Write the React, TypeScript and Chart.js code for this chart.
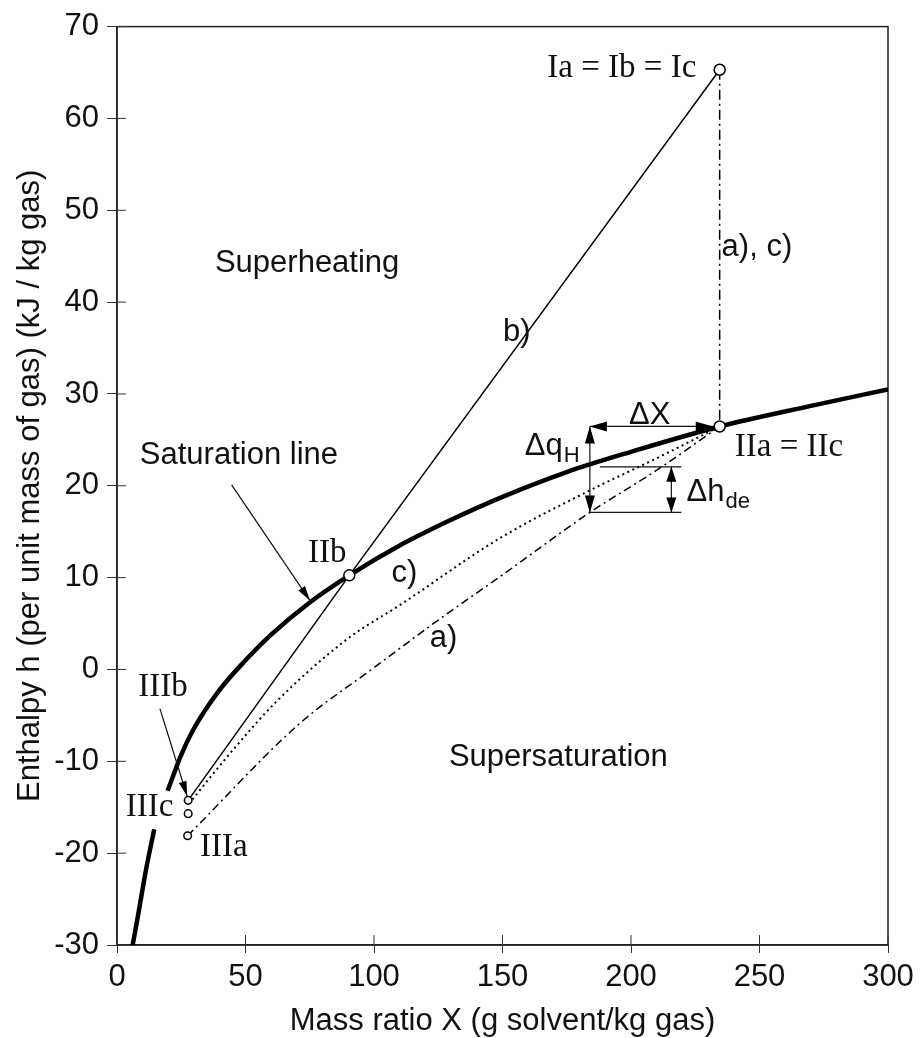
import React, { useEffect, useRef } from "react";
import { Chart, registerables } from "chart.js";

Chart.register(...registerables);

// ---- axis ticks ----
const xTickValues = [0, 50, 100, 150, 200, 250, 300];
const yTickValues = [-30, -20, -10, 0, 10, 20, 30, 40, 50, 60, 70];

// ---- saturation line (two segments, interrupted at the IIIc label) ----
const satLowX = [6.1, 8.3, 11.5, 14.5];
const satLowY = [-30, -26.6, -21.5, -17.4];
const satX = [19.7, 25, 30, 40, 50, 60, 75, 90.4, 110, 130, 150, 175, 200, 234.5, 270, 300];
const satY = [-13.2, -9.3, -6.4, -2.2, 1.0, 3.8, 7.3, 10.25, 13.5, 16.3, 18.8, 21.5, 23.7, 26.46, 28.7, 30.5];

// ---- process b) (solid) ----
const bX = [27.7, 90.4, 234.5];
const bY = [-14.25, 10.25, 65.3];

// ---- process c) (dotted) ----
const cX = [28, 45, 62, 90, 110, 149, 184, 210, 234.5];
const cY = [-14.6, -8.8, -3.5, 3.4, 7.0, 14.3, 19.5, 23.0, 26.46];

// ---- process a) (dash-dot) ----
const aX = [27.5, 71.2, 100, 125.6, 150, 184, 210, 234.5];
const aY = [-18.1, -5.85, 0.2, 5.5, 10.3, 17.1, 21.7, 26.46];

// ---- vertical a), c) cooling line ----
const vX = [234.5, 234.5];
const vY = [65.3, 26.46];

// ---- state points ----
const stateX = [234.5, 234.5, 90.4, 27.7, 27.7, 27.5];
const stateY = [65.3, 26.46, 10.25, -14.25, -15.7, -18.1];

// ---- annotation geometry (data coordinates) ----
const dX_from = [184, 26.46];
const dX_to = [231.8, 26.46];
const dqH_from = [184, 26.46];
const dqH_to = [184, 17.1];
const dhde_from = [215.7, 22.07];
const dhde_to = [215.7, 17.1];
const hLineTop = [[187.9, 22.07], [219.6, 22.07]];
const hLineBottom = [[184, 17.1], [219.6, 17.1]];
const satArrow = [[44.6, 20.1], [75.1, 7.5]];
const IIIbArrow = [[16.7, -4.27], [27.3, -13.8]];

// ---- text labels ----
const sansLabels: [string, number, number, CanvasTextAlign][] = [
  ["Superheating", 38.1, 44.2, "left"],
  ["Supersaturation", 214.3, -9.6, "right"],
  ["Saturation line", 86, 23.3, "right"],
  ["b)", 155.6, 36.7, "center"],
  ["a), c)", 249, 45.9, "center"],
  ["c)", 106.8, 10.5, "left"],
  ["a)", 121.7, 3.33, "left"],
  ["\u0394X", 207.3, 27.65, "center"],
];
const serifLabels: [string, number, number, CanvasTextAlign][] = [
  ["Ia = Ib = Ic", 225.4, 65.5, "right"],
  ["IIa = IIc", 240.4, 24.24, "left"],
  ["IIb", 89.3, 12.7, "right"],
  ["IIIb", 8.3, -1.9, "left"],
  ["IIIc", 21.9, -15.05, "right"],
  ["IIIa", 32.3, -19.4, "left"],
];
const subLabels: [string, string, number, number][] = [
  ["\u0394q", "H", 158.7, 24.3],
  ["\u0394h", "de", 221.6, 19.3],
];

const xTitle = "Mass ratio X (g solvent/kg gas)";
const yTitle = "Enthalpy h (per unit mass of gas) (kJ / kg gas)";

const SANS = '"Liberation Sans", Arial, sans-serif';
const SERIF = '"Liberation Serif", "Times New Roman", serif';

const zip = (xs: number[], ys: number[]) => xs.map((x, i) => ({ x, y: ys[i] }));

function drawArrow(ctx: CanvasRenderingContext2D, x1: number, y1: number, x2: number, y2: number, startHead: boolean, endHead: boolean, len = 15, half = 4.5) {
  ctx.beginPath();
  ctx.moveTo(x1, y1);
  ctx.lineTo(x2, y2);
  ctx.stroke();
  const head = (tx: number, ty: number, fx: number, fy: number) => {
    const ang = Math.atan2(ty - fy, tx - fx);
    ctx.beginPath();
    ctx.moveTo(tx, ty);
    ctx.lineTo(tx - len * Math.cos(ang) + half * Math.sin(ang), ty - len * Math.sin(ang) - half * Math.cos(ang));
    ctx.lineTo(tx - len * Math.cos(ang) - half * Math.sin(ang), ty - len * Math.sin(ang) + half * Math.cos(ang));
    ctx.closePath();
    ctx.fill();
  };
  if (endHead) head(x2, y2, x1, y1);
  if (startHead) head(x1, y1, x2, y2);
}

const annotPlugin = {
  id: "annot",
  beforeDatasetsDraw(chart: any) {
    const { ctx, chartArea: a, scales } = chart;
    ctx.save();
    ctx.strokeStyle = "#222";
    ctx.lineWidth = 1.5;
    ctx.strokeRect(a.left, a.top, a.right - a.left, a.bottom - a.top);
    // inner tick marks
    ctx.lineWidth = 1;
    ctx.strokeStyle = "#333";
    xTickValues.forEach((v) => {
      const p = scales.x.getPixelForValue(v);
      ctx.beginPath();
      ctx.moveTo(p, a.bottom);
      ctx.lineTo(p, a.bottom - 10);
      ctx.stroke();
    });
    yTickValues.forEach((v) => {
      const p = scales.y.getPixelForValue(v);
      ctx.beginPath();
      ctx.moveTo(a.left, p);
      ctx.lineTo(a.left + 9, p);
      ctx.stroke();
    });
    ctx.restore();
  },
  afterDatasetsDraw(chart: any) {
    const { ctx, chartArea: a, scales } = chart;
    const px = (v: number) => scales.x.getPixelForValue(v);
    const py = (v: number) => scales.y.getPixelForValue(v);
    ctx.save();
    ctx.strokeStyle = "#111";
    ctx.fillStyle = "#000";
    ctx.lineWidth = 1.2;
    drawArrow(ctx, px(dX_from[0]), py(dX_from[1]), px(dX_to[0]), py(dX_to[1]), true, true, 17, 5);
    drawArrow(ctx, px(dqH_from[0]), py(dqH_from[1]), px(dqH_to[0]), py(dqH_to[1]), true, true, 17, 5);
    drawArrow(ctx, px(dhde_from[0]), py(dhde_from[1]), px(dhde_to[0]), py(dhde_to[1]), true, true, 15, 5);
    [hLineTop, hLineBottom].forEach((l) => {
      ctx.beginPath();
      ctx.moveTo(px(l[0][0]), py(l[0][1]));
      ctx.lineTo(px(l[1][0]), py(l[1][1]));
      ctx.stroke();
    });
    drawArrow(ctx, px(satArrow[0][0]), py(satArrow[0][1]), px(satArrow[1][0]), py(satArrow[1][1]), false, true, 15, 4);
    drawArrow(ctx, px(IIIbArrow[0][0]), py(IIIbArrow[0][1]), px(IIIbArrow[1][0]), py(IIIbArrow[1][1]), false, true, 15, 4);

    ctx.fillStyle = "#111";
    ctx.textBaseline = "middle";
    ctx.font = `31px ${SANS}`;
    sansLabels.forEach(([t, x, y, al]) => {
      ctx.textAlign = al;
      ctx.fillText(t, px(x), py(y));
    });
    ctx.font = `33px ${SERIF}`;
    serifLabels.forEach(([t, x, y, al]) => {
      ctx.textAlign = al;
      ctx.fillText(t, px(x), py(y));
    });
    subLabels.forEach(([t, s, x, y]) => {
      ctx.textAlign = "left";
      ctx.font = `31px ${SANS}`;
      const X = px(x);
      const Y = py(y);
      ctx.fillText(t, X, Y);
      const w = ctx.measureText(t).width;
      ctx.font = `22px ${SANS}`;
      ctx.fillText(s, X + w + 1, Y + 10);
    });

    // axis titles
    ctx.font = `31px ${SANS}`;
    ctx.textAlign = "center";
    ctx.textBaseline = "alphabetic";
    ctx.fillText(xTitle, (a.left + a.right) / 2, 1030);
    ctx.translate(39, (a.top + a.bottom) / 2);
    ctx.rotate(-Math.PI / 2);
    ctx.fillText(yTitle, 0, 0);
    ctx.restore();
  },
};

export default function App() {
  const ref = useRef<HTMLCanvasElement | null>(null);
  useEffect(() => {
    if (!ref.current) return;
    const line = (data: any[], extra: any) => ({
      data,
      showLine: true,
      pointRadius: 0,
      borderColor: "#000",
      backgroundColor: "#000",
      fill: false,
      order: 1,
      ...extra,
    });
    const chart = new Chart(ref.current, {
      type: "scatter",
      data: {
        datasets: [
          {
            data: zip(stateX, stateY),
            showLine: false,
            pointRadius: (c: any) => (c.dataIndex < 3 ? 5.5 : 3.8),
            pointBackgroundColor: "#fff",
            pointBorderColor: "#000",
            pointBorderWidth: 1.5,
            order: -1,
          },
          line(zip(satLowX, satLowY), { borderWidth: 4.5, cubicInterpolationMode: "monotone" }),
          line(zip(satX, satY), { borderWidth: 4.5, cubicInterpolationMode: "monotone" }),
          line(zip(bX, bY), { borderWidth: 1.5 }),
          line(zip(cX, cY), { borderWidth: 2, borderDash: [2, 3.5], cubicInterpolationMode: "monotone" }),
          line(zip(aX, aY), { borderWidth: 1.5, borderDash: [8, 4, 2, 4], cubicInterpolationMode: "monotone" }),
          line(zip(vX, vY), { borderWidth: 1.5, borderDash: [10, 4, 2, 4] }),
        ] as any,
      },
      options: {
        animation: false,
        responsive: false,
        events: [],
        layout: { padding: { top: 20, right: 33, left: 0, bottom: 0 } },
        plugins: { legend: { display: false }, tooltip: { enabled: false } },
        scales: {
          x: {
            type: "linear",
            min: 0,
            max: 300,
            afterFit: (s: any) => {
              s.height = 93;
            },
            afterBuildTicks: (s: any) => {
              s.ticks = xTickValues.map((v) => ({ value: v }));
            },
            ticks: {
              color: "#111",
              font: { family: "Liberation Sans", size: 31 },
              padding: 6,
              maxRotation: 0,
              callback: (v: any) => String(v),
            },
            grid: { drawOnChartArea: false, drawTicks: true, tickLength: 8, color: "#333", lineWidth: 1 },
            border: { display: true, color: "#222", width: 1.5 },
          },
          y: {
            type: "linear",
            min: -30,
            max: 70,
            afterFit: (s: any) => {
              s.width = 117;
            },
            afterBuildTicks: (s: any) => {
              s.ticks = yTickValues.map((v) => ({ value: v }));
            },
            ticks: {
              color: "#111",
              font: { family: "Liberation Sans", size: 31 },
              padding: 8,
              callback: (v: any) => String(v),
            },
            grid: { drawOnChartArea: false, drawTicks: true, tickLength: 10, color: "#333", lineWidth: 1 },
            border: { display: true, color: "#222", width: 1.5 },
          },
        },
      } as any,
      plugins: [annotPlugin],
    });
    return () => chart.destroy();
  }, []);
  return (
    <div style={{ position: "absolute", left: 0, top: 0, width: 921, height: 1038, background: "#fff" }}>
      <canvas ref={ref} width={921} height={1038} style={{ display: "block" }} />
    </div>
  );
}
